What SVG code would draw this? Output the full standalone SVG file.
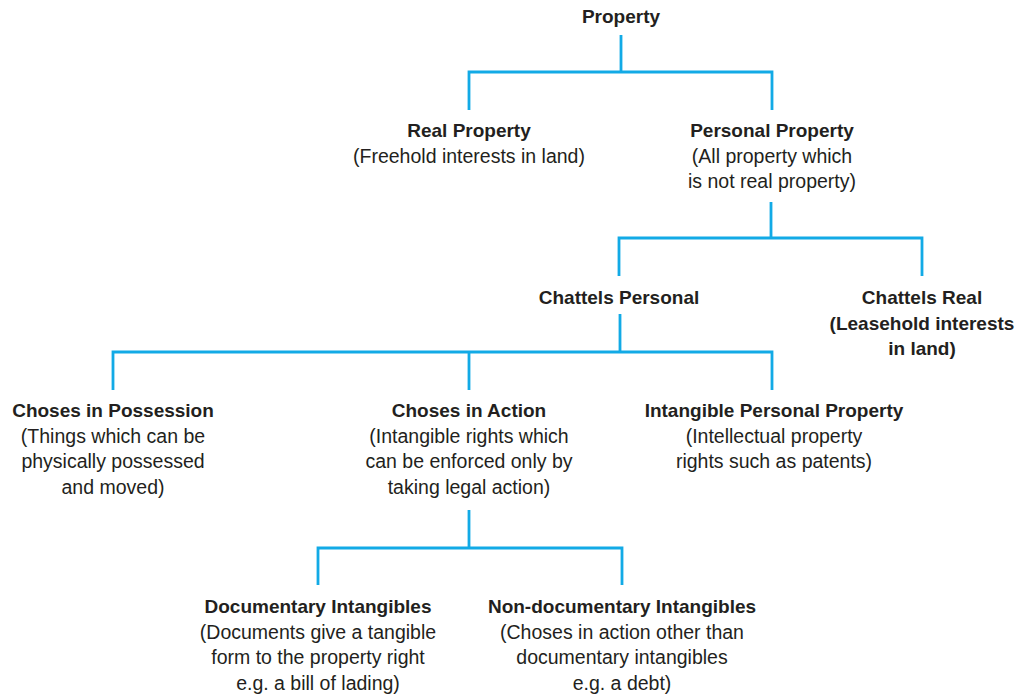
<svg xmlns="http://www.w3.org/2000/svg" width="1025" height="699" viewBox="0 0 1025 699">
<style>
text{font-family:"Liberation Sans",Arial,sans-serif;fill:#231f20;text-anchor:middle;font-size:19.5px}
.b{font-weight:bold;font-size:19px}
.c{fill:none;stroke:#12aae6;stroke-width:2.8}
</style>
<rect width="1025" height="699" fill="#fff"/>
<g id="connectors" class="c">
<path d="M621 35V72M469 110V72H772V110"/>
<path d="M771 202V238M619 276V238H922V276"/>
<path d="M620 314V352M113 390V352H772V390M469 352V390"/>
<path d="M469 510V548M318 585V548H622V585"/>
</g>
<g id="property"><text class="b" x="621" y="23">Property</text></g>
<g id="real-property"><text class="b" x="469" y="137">Real Property</text><text x="469" y="162.5">(Freehold interests in land)</text></g>
<g id="personal-property"><text class="b" x="772" y="137">Personal Property</text><text x="772" y="162.5">(All property which</text><text x="772" y="188">is not real property)</text></g>
<g id="chattels-personal"><text class="b" x="619" y="304">Chattels Personal</text></g>
<g id="chattels-real"><text class="b" x="922" y="304">Chattels Real</text><text class="b" x="922" y="329.5">(Leasehold interests</text><text class="b" x="922" y="355">in land)</text></g>
<g id="choses-possession"><text class="b" x="113" y="417">Choses in Possession</text><text x="113" y="442.5">(Things which can be</text><text x="113" y="468">physically possessed</text><text x="113" y="493.5">and moved)</text></g>
<g id="choses-action"><text class="b" x="469" y="417">Choses in Action</text><text x="469" y="442.5">(Intangible rights which</text><text x="469" y="468">can be enforced only by</text><text x="469" y="493.5">taking legal action)</text></g>
<g id="intangible-personal"><text class="b" x="774" y="417">Intangible Personal Property</text><text x="774" y="442.5">(Intellectual property</text><text x="774" y="468">rights such as patents)</text></g>
<g id="documentary"><text class="b" x="318" y="613">Documentary Intangibles</text><text x="318" y="638.5">(Documents give a tangible</text><text x="318" y="664">form to the property right</text><text x="318" y="689.5">e.g. a bill of lading)</text></g>
<g id="non-documentary"><text class="b" x="622" y="613">Non-documentary Intangibles</text><text x="622" y="638.5">(Choses in action other than</text><text x="622" y="664">documentary intangibles</text><text x="622" y="689.5">e.g. a debt)</text></g>
</svg>
